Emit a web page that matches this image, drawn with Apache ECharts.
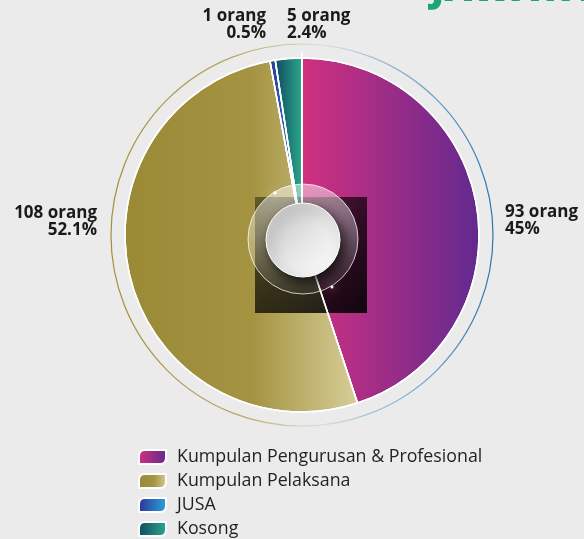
<!DOCTYPE html>
<html>
<head>
<meta charset="utf-8">
<script src="https://cdn.jsdelivr.net/npm/echarts@6/dist/echarts.min.js"></script>
<style>
  html, body { margin: 0; padding: 0; background: #ebebeb; }
  #chart { width: 584px; height: 539px; }
</style>
</head>
<body>
<div id="chart"></div>
<script>
// ---- data ----
const categories = ['Kumpulan Pengurusan & Profesional', 'Kumpulan Pelaksana', 'JUSA', 'Kosong'];
const counts = [93, 108, 1, 5];
const pctLabels = ['45%', '52.1%', '0.5%', '2.4%'];
const titleText = 'JAWATAN';

// ---- style / layout ----
const CX = 302, CY = 235, R = 177, RING_R = 191;
const FONT = '"Open Sans", "Noto Sans", sans-serif';
const gradients = [
  [[0, '#D2307F'], [1, '#62298F']],
  [[0, '#9A8935'], [0.55, '#A49442'], [1, '#D7CE98']],
  [[0, '#2E3192'], [1, '#29A8E0']],
  [[0, '#0D4A5E'], [1, '#2DAA8C']]
];
const labelPos = [
  { x: 505, y: 221, align: 'left' },
  { x: 97, y: 222, align: 'right' },
  { x: 266, y: 25, align: 'right' },
  { x: 287, y: 25, align: 'left' }
];
function lg(stops) {
  return new echarts.graphic.LinearGradient(0, 0, 1, 0,
    stops.map(s => ({ offset: s[0], color: s[1] })));
}

const chart = echarts.init(document.getElementById('chart'), null, { renderer: 'canvas' });

const mainData = categories.map((name, i) => ({
  name: name,
  value: counts[i],
  itemStyle: { color: lg(gradients[i]) }
}));

const option = {
  backgroundColor: '#ebebeb',
  animation: false,
  legend: {
    data: categories,
    orient: 'vertical',
    left: 138,
    top: 448,
    height: 92,
    padding: 0,
    itemWidth: 27,
    itemHeight: 14,
    itemGap: 6,
    icon: 'path://M6,0 L27,0 L27,8 Q27,14 21,14 L0,14 L0,6 Q0,0 6,0 Z',
    selectedMode: false,
    textStyle: {
      fontFamily: FONT,
      fontSize: 17.8,
      lineHeight: 17,
      color: '#231f20',
      padding: [0, 0, 0, 6]
    }
  },
  series: [
    {
      type: 'pie',
      name: 'main',
      center: [CX, CY],
      radius: [0, R],
      startAngle: 90,
      clockwise: true,
      z: 2,
      silent: true,
      itemStyle: { borderColor: '#ffffff', borderWidth: 1.5 },
      label: {
        show: true,
        position: 'inside',
        overflow: 'none',
        formatter: p => `${p.value} orang\n${pctLabels[p.dataIndex]}`,
        fontFamily: FONT,
        fontWeight: 700,
        fontSize: 17,
        lineHeight: 17,
        color: '#1a1a1a'
      },
      labelLine: { show: false },
      labelLayout: function (params) {
        const p = labelPos[params.dataIndex];
        return { x: p.x, y: p.y, align: p.align, verticalAlign: 'middle' };
      },
      emphasis: { disabled: true },
      data: mainData
    },
    {
      type: 'pie',
      name: 'lines',
      center: [CX, CY],
      radius: [0, R],
      startAngle: 90,
      clockwise: true,
      z: 12,
      silent: true,
      legendHoverLink: false,
      itemStyle: { color: 'rgba(0,0,0,0)', borderColor: '#ffffff', borderWidth: 1.5 },
      label: { show: false },
      labelLine: { show: false },
      emphasis: { disabled: true },
      data: categories.map((name, i) => ({ name: name, value: counts[i] }))
    }
  ],
  graphic: [
    {
      type: 'circle',
      z: 1,
      silent: true,
      shape: { cx: CX, cy: CY, r: RING_R },
      style: {
        fill: 'none',
        lineWidth: 1.2,
        stroke: new echarts.graphic.LinearGradient(0, 0, 1, 0, [
          { offset: 0, color: '#A08F36' },
          { offset: 0.35, color: '#B9AA62' },
          { offset: 0.55, color: '#dcdcd6' },
          { offset: 0.75, color: '#86b3d3' },
          { offset: 1, color: '#2874AE' }
        ])
      }
    },
    {
      type: 'line',
      z: 12,
      silent: true,
      shape: { x1: CX, y1: CY - R - 6, x2: CX, y2: CY - R },
      style: { stroke: '#ffffff', lineWidth: 1.5 }
    },
    {
      type: 'rect',
      z: 10,
      silent: true,
      shape: { x: CX - 47, y: CY - 38, width: 112, height: 116 },
      style: {
        fill: new echarts.graphic.LinearGradient(0, 0, 1, 1, [
          { offset: 0, color: 'rgba(0,0,0,0.4)' },
          { offset: 0.5, color: 'rgba(0,0,0,0.7)' },
          { offset: 1, color: 'rgba(0,0,0,0.9)' }
        ])
      }
    },
    {
      type: 'circle',
      z: 11,
      silent: true,
      shape: { cx: CX + 1, cy: CY + 4, r: 55 },
      style: {
        fill: new echarts.graphic.LinearGradient(0, 0, 0, 1, [
          { offset: 0, color: 'rgba(255,255,255,0.5)' },
          { offset: 1, color: 'rgba(255,255,255,0.06)' }
        ]),
        stroke: 'rgba(255,255,255,0.75)',
        lineWidth: 1
      }
    },
    {
      type: 'circle',
      z: 13,
      silent: true,
      shape: { cx: CX + 1, cy: CY + 5, r: 37 },
      style: {
        fill: new echarts.graphic.LinearGradient(0, 0, 1, 1, [
          { offset: 0, color: '#bdbdbd' },
          { offset: 0.5, color: '#e4e4e4' },
          { offset: 1, color: '#ffffff' }
        ]),
        stroke: '#ffffff',
        lineWidth: 1,
        shadowBlur: 12,
        shadowOffsetX: 4,
        shadowOffsetY: 6,
        shadowColor: 'rgba(0,0,0,0.7)'
      }
    },
    {
      type: 'circle',
      z: 14,
      silent: true,
      shape: { cx: CX - 27, cy: CY - 42, r: 1.8 },
      style: { fill: '#ffffff', shadowBlur: 8, shadowColor: '#ffffff' }
    },
    {
      type: 'circle',
      z: 14,
      silent: true,
      shape: { cx: CX + 30, cy: CY + 52, r: 1.5 },
      style: { fill: '#ffffff', shadowBlur: 8, shadowColor: '#ffffff' }
    },
    {
      type: 'text',
      z: 20,
      silent: true,
      x: 431,
      y: -10,
      style: {
        text: titleText,
        fill: '#1FA37A',
        font: '800 38px "Open Sans", sans-serif',
        verticalAlign: 'middle',
        align: 'left'
      }
    }
  ]
};
chart.setOption(option);
</script>
</body>
</html>
